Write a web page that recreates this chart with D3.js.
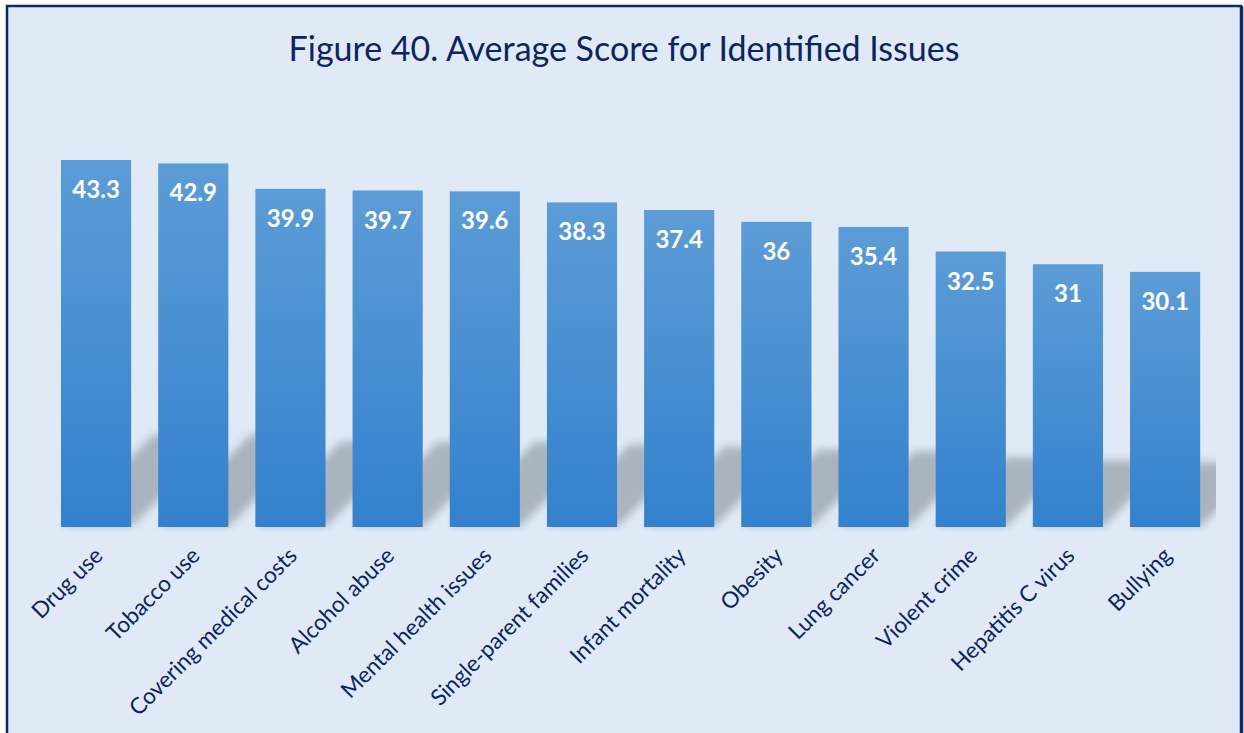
<!DOCTYPE html>
<html>
<head>
<meta charset="utf-8">
<script src="https://cdn.jsdelivr.net/npm/d3@7"></script>
<style>
  html, body { margin: 0; padding: 0; background: #ffffff; }
  svg { display: block; }
</style>
</head>
<body>
<svg id="chart" width="1244" height="733"></svg>
<script>
// Average score per identified community issue
const categories = [
  "Drug use", "Tobacco use", "Covering medical costs", "Alcohol abuse",
  "Mental health issues", "Single-parent families", "Infant mortality",
  "Obesity", "Lung cancer", "Violent crime", "Hepatitis C virus", "Bullying"
];
const scores = [43.3, 42.9, 39.9, 39.7, 39.6, 38.3, 37.4, 36, 35.4, 32.5, 31, 30.1];
const valueLabels = ["43.3", "42.9", "39.9", "39.7", "39.6", "38.3", "37.4", "36", "35.4", "32.5", "31", "30.1"];
const titleText = "Figure 40. Average Score for Identified Issues";

const navy = "#0c2461";
const svg = d3.select("#chart");
const W = 1244, H = 733;

// Chart background and frame
svg.append("rect").attr("x", 0).attr("y", 0).attr("width", W).attr("height", H).attr("fill", "#ffffff");
svg.append("rect")
  .attr("x", 7).attr("y", 6).attr("width", 1234).attr("height", 760)
  .attr("fill", "#dfeaf6").attr("stroke", "#0e2766").attr("stroke-width", 2.5);
svg.append("line").attr("x1", 1242).attr("x2", 1242).attr("y1", 6).attr("y2", H)
  .attr("stroke", "#0e2766").attr("stroke-width", 2.5);

const defs = svg.append("defs");
const grad = defs.append("linearGradient").attr("id", "barFill")
  .attr("x1", 0).attr("y1", 0).attr("x2", 0).attr("y2", 1);
grad.append("stop").attr("offset", "0%").attr("stop-color", "#5c9cd6");
grad.append("stop").attr("offset", "100%").attr("stop-color", "#3381cd");

const blur = defs.append("filter").attr("id", "shadowBlur")
  .attr("x", "-30%").attr("y", "-30%").attr("width", "160%").attr("height", "160%");
blur.append("feGaussianBlur").attr("stdDeviation", 4.5);

defs.append("clipPath").attr("id", "plotClip")
  .append("rect").attr("x", 20).attr("y", 80).attr("width", 1196).attr("height", 451);

// Scales
const x = d3.scaleBand()
  .domain(categories)
  .range([47.4, 1213.8])
  .paddingInner(0.278)
  .paddingOuter(0.14);
const y = d3.scaleLinear().domain([0, 50]).range([527, 103.2]);
const base = y(0);

const data = categories.map((c, i) => ({ cat: c, v: scores[i], label: valueLabels[i] }));

// Title
svg.append("text")
  .attr("x", 624).attr("y", 61)
  .attr("text-anchor", "middle")
  .attr("font-family", "Lato, 'Open Sans', sans-serif")
  .attr("font-size", 34)
  .attr("fill", navy)
  .text(titleText);

// Perspective shadows: each bar flattened and skewed toward the upper right
const shadowScaleY = 0.25, shadowSlope = 1.0;
svg.append("g").attr("clip-path", "url(#plotClip)")
  .append("g").attr("filter", "url(#shadowBlur)")
  .selectAll("path").data(data).join("path")
  .attr("d", d => {
    const x0 = x(d.cat) + 1, x1 = x0 + x.bandwidth();
    const h = shadowScaleY * (base - y(d.v));
    const dx = h / shadowSlope;
    const b = base - 1;
    return `M${x0},${b}L${x1},${b}L${x1 + dx},${b - h}L${x0 + dx},${b - h}Z`;
  })
  .attr("fill", "#aab4be");

// Bars
svg.append("g").selectAll("rect").data(data).join("rect")
  .attr("x", d => x(d.cat))
  .attr("y", d => y(d.v))
  .attr("width", x.bandwidth())
  .attr("height", d => base - y(d.v))
  .attr("fill", "url(#barFill)");

// Value labels inside bar tops
svg.append("g").selectAll("text").data(data).join("text")
  .attr("x", d => x(d.cat) + x.bandwidth() / 2)
  .attr("y", d => y(d.v) + 38)
  .attr("text-anchor", "middle")
  .attr("font-family", "Lato, 'Open Sans', sans-serif")
  .attr("font-weight", "bold")
  .attr("font-size", 24)
  .attr("fill", "#ffffff")
  .text(d => d.label);

// Category axis labels, rotated
const xAxis = d3.axisBottom(x).tickSize(0).tickPadding(0);
const axisG = svg.append("g").attr("transform", `translate(0,${base})`).call(xAxis);
axisG.select(".domain").remove();
axisG.selectAll(".tick text")
  .attr("font-family", "Lato, 'Open Sans', sans-serif")
  .attr("font-size", 22.5)
  .attr("fill", navy)
  .attr("text-anchor", "end")
  .attr("dy", 0)
  .attr("y", 0)
  .attr("transform", "translate(8,30) rotate(-45)");
</script>
</body>
</html>
